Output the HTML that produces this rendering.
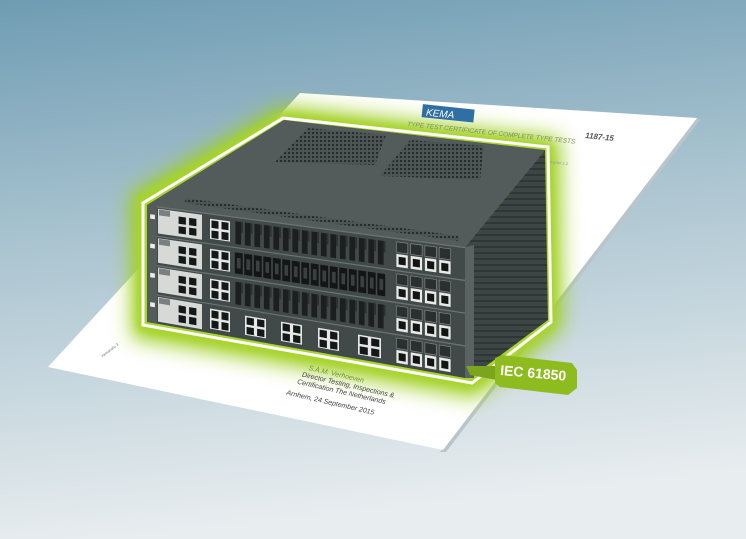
<!DOCTYPE html>
<html><head><meta charset="utf-8"><style>
html,body{margin:0;padding:0;width:746px;height:539px;overflow:hidden}
svg{display:block}
text{font-family:"Liberation Sans",sans-serif}
</style></head><body>
<svg id="s" width="746" height="539" viewBox="0 0 746 539" xmlns="http://www.w3.org/2000/svg">
<defs>
<linearGradient id="bg" x1="0" y1="0" x2="0.15" y2="1">
<stop offset="0" stop-color="#6f9cb3"/><stop offset="0.45" stop-color="#aac4d0"/><stop offset="1" stop-color="#e8edef"/>
</linearGradient>
<filter id="blur" x="-30%" y="-30%" width="160%" height="160%"><feGaussianBlur stdDeviation="10"/></filter>
<filter id="blur2" x="-30%" y="-30%" width="160%" height="160%"><feGaussianBlur stdDeviation="4"/></filter>
<pattern id="vent" width="4" height="4" patternUnits="userSpaceOnUse"><rect width="4" height="4" fill="#4c5454"/><rect width="2" height="2" fill="#262c2c"/></pattern>
<pattern id="ridge" width="8" height="6" patternUnits="userSpaceOnUse"><rect width="8" height="6" fill="#3e4545"/><rect width="8" height="2" fill="#303636"/></pattern>
</defs>
<rect width="746" height="539" fill="url(#bg)"/>
<polygon points="700,120 446,452 440,452 697,118" fill="#b9c5ca"/>
<polygon points="300,93 697,118 443,450 48,367" fill="#ffffff"/>
<polygon points="281,106 560,138 562,328 476,398 132,338 130,194" fill="#9fcf22" filter="url(#blur)"/>
<polygon points="281,113 552,144 555,324 473,388 138,330 137,198" fill="#a8d52c" filter="url(#blur2)"/>
<g transform="rotate(6 440 114)">
<rect x="422" y="106" width="52" height="13" fill="#2f6fa3"/>
<text x="426" y="117" font-size="10" font-style="italic" fill="#fff">KEMA</text>
</g>
<text x="407" y="126" font-size="6.5" font-style="italic" fill="#7d8f5c" transform="rotate(6 407 126)">TYPE TEST CERTIFICATE OF COMPLETE TYPE TESTS</text>
<text x="585" y="138" font-size="8" font-weight="bold" font-style="italic" fill="#555" transform="rotate(6 585 138)">1187-15</text>
<text x="548" y="163" font-size="4" fill="#999" transform="rotate(6 548 163)">chapter 2.2</text>
<g transform="rotate(13 300 370)" font-style="italic" fill="#444">
<text x="308" y="368" font-size="7" fill="#6c9a2a">S.A.M. Verhoeven</text>
<text x="303" y="376" font-size="7">Director Testing, Inspections &amp;</text>
<text x="300" y="384" font-size="7">Certification The Netherlands</text>
<text x="292" y="397" font-size="7">Arnhem, 24 September 2015</text>
</g>
<text x="102" y="358" font-size="4" fill="#777" transform="rotate(-38 102 358)">Yamanoto  3</text>
<polygon points="283,118 548,147 551,322 472,383 143,325 143,203" fill="none" stroke="#fff" stroke-width="3"/>
<polygon points="284,120 545,150 465,247 147,205" fill="#535b5b"/>
<polygon points="308,128 386,135 375,165 275,162" fill="url(#vent)"/>
<polygon points="410,140 484,146 480,180 380,176" fill="url(#vent)"/>
<polygon points="185,198 459,236 459,241 185,203" fill="url(#vent)"/>
<polygon points="465,247 545,150 548,320 470,378" fill="url(#ridge)"/>
<polygon points="147,205 465,247 465,378 147,322" fill="#424949"/>
<g id="front"></g>
<polygon points="465,247 474,245 474,378 465,378" fill="#5a6262"/>
<polygon points="466,366 497,366 497,380 470,375" fill="#7aa51c"/>
<polygon points="495,358 502,355 572,363 577,370 577,388 568,395 500,387 495,383" fill="#8ebc1f"/>
<text x="500" y="378" font-size="14" font-weight="bold" fill="#fff" transform="rotate(5 536 375)">IEC 61850</text>
</svg>
<script>
(function(){
var g=document.getElementById('front');var NS='http://www.w3.org/2000/svg';
function P(u,v){var x=147+u*318,yt=205+u*42,yb=322+u*56;return [x,yt+v*(yb-yt)];}
function q(u0,u1,v0,v1,f,st){var a=P(u0,v0),b=P(u1,v0),c=P(u1,v1),d=P(u0,v1);
var p=document.createElementNS(NS,'polygon');p.setAttribute('points',[a,b,c,d].map(function(z){return z[0].toFixed(1)+','+z[1].toFixed(1)}).join(' '));
p.setAttribute('fill',f);if(st){p.setAttribute('stroke',st);p.setAttribute('stroke-width','0.6');}g.appendChild(p);}
function U(x){return (x-147)/318;}
function V(i,t){return (i+t)/4;}
function rj(u0,u1,i,t0,t1,bg){q(u0,u1,V(i,t0),V(i,t1),bg||'#e6e8e6');var w=(u1-u0)/2,h=(t1-t0)/2;
for(var a=0;a<2;a++)for(var b=0;b<2;b++)q(u0+a*w+w*0.15,u0+(a+1)*w-w*0.15,V(i,t0+b*h+h*0.15),V(i,t0+(b+1)*h-h*0.1),'#151818');}
for(var i=0;i<4;i++){
 q(0,1,V(i,0),V(i,0.04),'#6b7373');
 q(0,U(157),V(i,0),V(i,1),'#545b5b');
 q(0.01,0.025,V(i,0.3),V(i,0.45),'#eee');
 q(U(158),U(202),V(i,0.08),V(i,0.92),'#d6d9d6');
 q(U(159),U(170),V(i,0.1),V(i,0.3),'#7a7f7f');
 rj(U(177),U(198),i,0.2,0.85,'#d6d9d6');
 rj(U(210),U(230),i,0.18,0.85);
 if(i==3){var cl=[[245,266],[281,302],[318,339],[358,381]];cl.forEach(function(c){rj(U(c[0]),U(c[1]),i,0.22,0.85);});}
 else{var s=U(234),e=U(386),n=16,w=(e-s)/n;for(var k=0;k<n;k++){
  if(i==1){q(s+k*w+w*0.08,s+k*w+w*0.92,V(i,0.18),V(i,0.88),'#141616');q(s+k*w+w*0.3,s+k*w+w*0.7,V(i,0.35),V(i,0.7),'#3b3f3f');}
  else{q(s+k*w+w*0.15,s+k*w+w*0.75,V(i,0.15),V(i,0.9),'#1b1f1f');q(s+k*w+w*0.75,s+k*w+w*0.95,V(i,0.15),V(i,0.5),'#2c3131');}}}
 var r0=U(395),r1=U(452),rw=(r1-r0)/4;
 for(var k=0;k<4;k++){q(r0+k*rw+rw*0.1,r0+(k+1)*rw-rw*0.1,V(i,0.12),V(i,0.45),'#2a2f2f','#8a9090');
  q(r0+k*rw+rw*0.1,r0+(k+1)*rw-rw*0.1,V(i,0.5),V(i,0.9),'#e8eae8');q(r0+k*rw+rw*0.25,r0+(k+1)*rw-rw*0.25,V(i,0.58),V(i,0.82),'#131515');}
}
})();
</script>
</body></html>
